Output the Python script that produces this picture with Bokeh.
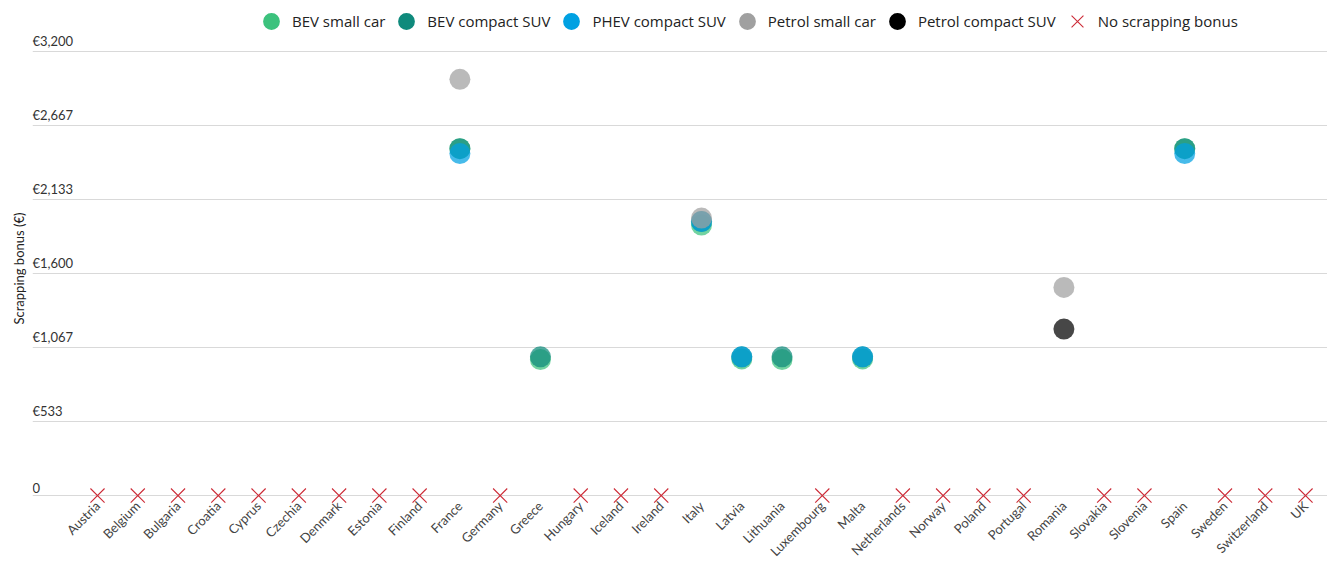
import math
import numpy as np
from bokeh.plotting import figure
from bokeh.models import (ColumnDataSource, Range1d, FixedTicker, Legend, LegendItem, Title)
from bokeh.core.properties import value
from bokeh.embed import file_html
from bokeh.resources import INLINE

countries = ["Austria", "Belgium", "Bulgaria", "Croatia", "Cyprus", "Czechia", "Denmark",
             "Estonia", "Finland", "France", "Germany", "Greece", "Hungary", "Iceland",
             "Ireland", "Italy", "Latvia", "Lithuania", "Luxembourg", "Malta", "Netherlands",
             "Norway", "Poland", "Portugal", "Romania", "Slovakia", "Slovenia", "Spain",
             "Sweden", "Switzerland", "UK"]

bev_small_car = {"France": 2500, "Greece": 980, "Italy": 1950, "Latvia": 985,
                 "Lithuania": 980, "Malta": 985, "Spain": 2500}
bev_compact_suv = {"France": 2500, "Greece": 1000, "Italy": 1975, "Latvia": 1000,
                   "Lithuania": 1000, "Malta": 1000, "Spain": 2500}
phev_compact_suv = {"France": 2465, "Italy": 1975, "Latvia": 1000, "Malta": 1000,
                    "Spain": 2465}
petrol_small_car = {"France": 3000, "Italy": 2000, "Romania": 1500}
petrol_compact_suv = {"Romania": 1200}

no_bonus = ["Austria", "Belgium", "Bulgaria", "Croatia", "Cyprus", "Czechia", "Denmark",
            "Estonia", "Finland", "Germany", "Hungary", "Iceland", "Ireland", "Luxembourg",
            "Netherlands", "Norway", "Poland", "Portugal", "Slovakia", "Slovenia",
            "Sweden", "Switzerland", "UK"]
no_bonus_value = 0

y_ticks = [0, 533.33, 1066.67, 1600, 2133.33, 2666.67, 3200]
y_tick_labels = ["0", "€533", "€1,067", "€1,600", "€2,133", "€2,667", "€3,200"]

series = [
    ("BEV small car", bev_small_car, "#3cc27d"),
    ("BEV compact SUV", bev_compact_suv, "#0f8a7c"),
    ("PHEV compact SUV", phev_compact_suv, "#00a1e2"),
    ("Petrol small car", petrol_small_car, "#a0a0a0"),
    ("Petrol compact SUV", petrol_compact_suv, "#000000"),
]
cross_color = "#cc2a36"

FONT = "Lato"
idx = {c: i for i, c in enumerate(countries)}

x_start, x_end = -1.614, 30.546
p = figure(width=1327, height=567, output_backend="svg", toolbar_location=None,
           x_range=Range1d(x_start, x_end), y_range=Range1d(-14, 3568),
           min_border_left=32, min_border_right=0, min_border_top=0,
           min_border_bottom=0)
p.outline_line_color = None
p.background_fill_color = "white"
p.border_fill_color = "white"

# axes
p.xaxis.ticker = FixedTicker(ticks=list(range(len(countries))))
p.xaxis.major_label_overrides = {i: c for i, c in enumerate(countries)}
p.xaxis.major_label_orientation = math.pi / 4
p.xaxis.axis_line_color = None
p.xaxis.major_tick_line_color = None
p.xaxis.minor_tick_line_color = None
p.xaxis.major_tick_out = 0
p.xaxis.major_tick_in = 0
p.xaxis.minor_tick_out = 0
p.xaxis.minor_tick_in = 0
p.xaxis.major_label_standoff = 6
p.xaxis.major_label_text_font = FONT
p.xaxis.major_label_text_font_size = "13px"
p.xaxis.major_label_text_color = "#444444"

p.yaxis.visible = False
p.add_layout(Title(text="Scrapping bonus (€)", align="left", text_font=FONT,
                   text_font_size="13px", text_font_style="normal",
                   text_color="#222222", offset=173, standoff=12), "left")

p.xgrid.grid_line_color = None
p.ygrid.ticker = FixedTicker(ticks=y_ticks)
p.ygrid.grid_line_color = "#d9d9d9"
p.ygrid.grid_line_width = 1

# y tick labels drawn above gridlines
tick_src = ColumnDataSource(dict(x=[x_start] * len(y_ticks), y=y_ticks, t=y_tick_labels))
p.text(x="x", y="y", text="t", source=tick_src, text_font=value(FONT),
       text_font_size="13px", text_color="#333333", text_baseline="bottom",
       text_align="left", y_offset=-3)

items = []
for name, data, color in series:
    xs = [idx[c] for c in data]
    ys = list(data.values())
    src = ColumnDataSource(dict(x=xs, y=ys))
    p.scatter(x="x", y="y", source=src, size=21, fill_color=color, fill_alpha=0.72,
              line_color=None)
    # legend swatch only (a single NaN point, never drawn in the plot), fully opaque
    proxy_src = ColumnDataSource(dict(x=np.array([np.nan]), y=np.array([np.nan])))
    proxy = p.scatter(x="x", y="y", source=proxy_src, size=21, fill_color=color,
                      line_color=None)
    items.append(LegendItem(label=name, renderers=[proxy]))

nb_src = ColumnDataSource(dict(x=[idx[c] for c in no_bonus],
                               y=[no_bonus_value] * len(no_bonus)))
r_x = p.scatter(x="x", y="y", source=nb_src, marker="x", size=20, line_color=cross_color,
                line_width=1.1, level="overlay")
items.append(LegendItem(label="No scrapping bonus", renderers=[r_x]))

legend = Legend(items=items, orientation="horizontal", location=(218, 455),
                label_text_font="Open Sans", label_text_font_size="15px",
                label_text_color="#222222", glyph_width=42, glyph_height=42,
                spacing=0, label_standoff=0, padding=0, margin=0,
                border_line_color=None, background_fill_alpha=0)
p.add_layout(legend)

open("out.html", "w").write(file_html(p, INLINE))
